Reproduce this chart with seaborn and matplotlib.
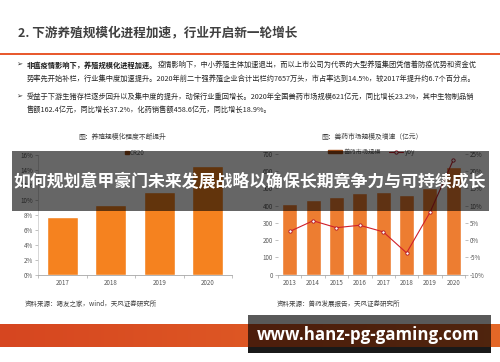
import numpy as np
import matplotlib
matplotlib.use("Agg")
import matplotlib.pyplot as plt
import seaborn as sns
from matplotlib.patches import Rectangle
from matplotlib.lines import Line2D

# ---------------- data ----------------
years_left = ["2017", "2018", "2019", "2020"]
cr20 = [7.7, 9.4, 11.1, 14.5]
left_yticks = [0, 2, 4, 6, 8, 10, 12, 14, 16]

years_right = ["2013", "2014", "2015", "2016", "2017", "2018", "2019", "2020"]
market = [410, 433, 448, 470, 481, 462, 503, 621]
yoy = [2.5, 5.6, 3.6, 4.3, 2.4, -3.7, 8.0, 23.2]
right_yticks = [0, 100, 200, 300, 400, 500, 600, 700]
yoy_ticks = [-10, -5, 0, 5, 10, 15, 20, 25]

title = "2. 下游养殖规模化进程加速，行业开启新一轮增长"
b1_bold = "非瘟疫情影响下，养殖规模化进程加速。"
b1_rest = "疫情影响下，中小养殖主体加速退出，而以上市公司为代表的大型养殖集团凭借着防疫优势和资金优"
b1_line2 = "势率先开始补栏，行业集中度加速提升。2020年前二十强养殖企业合计出栏约7657万头，市占率达到14.5%，较2017年提升约6.7个百分点。"
b2_line1 = "受益于下游生猪存栏逐步回升以及集中度的提升，动保行业重回增长。2020年全国兽药市场规模621亿元，同比增长23.2%，其中生物制品销"
b2_line2 = "售额162.4亿元，同比增长37.2%，化药销售额458.6亿元，同比增长18.9%。"
left_title = "图：养殖规模化程度不断提升"
right_title = "图：兽药市场规模及增速（亿元）"
left_src = "资料来源：猪友之家，wind，天风证券研究所"
right_src = "资料来源：兽药发展报告，天风证券研究所"
banner = "如何规划意甲豪门未来发展战略以确保长期竞争力与可持续成长"
watermark = "www.hanz-pg-gaming.com"

# ---------------- setup ----------------
sns.set_theme(style="white")
plt.rcParams['font.family'] = ['Noto Sans CJK SC', 'DejaVu Sans']

W, H = 500, 362
fig = plt.figure(figsize=(5, 3.62), dpi=100)
fig.patch.set_facecolor("white")
renderer = fig.canvas.get_renderer()


def fx(x):
    return x / W


def fy(y):
    return 1 - y / H


def fit(t, size, target):
    w = t.get_window_extent(renderer).width
    t.set_fontsize(size * target / w)


TXT = "#262626"
# slide title
tt = fig.text(fx(18), fy(33), title, fontsize=8.3, weight="bold", color="#404040", va="center")
fit(tt, 8.3, 279)
fig.add_artist(Line2D([0, 1], [fy(53.5)] * 2, transform=fig.transFigure,
                      color="#E8562A", lw=1.4))

# bullets
BF = 5.2
for yb in (65, 97):
    fig.text(fx(16.5), fy(yb), "➢", fontsize=5.2, color=TXT, va="center",
             family=["DejaVu Sans"])
t1 = fig.text(fx(27), fy(65), b1_bold, fontsize=BF, weight="bold", color="#1a1a1a", va="center")
bb = t1.get_window_extent(renderer)
fig.text(bb.x1 / fig.bbox.width, fy(65), b1_rest, fontsize=BF, color=TXT, va="center")
fig.text(fx(27), fy(79), b1_line2, fontsize=BF, color=TXT, va="center")
fig.text(fx(27), fy(97), b2_line1, fontsize=BF, color=TXT, va="center")
fig.text(fx(27), fy(110), b2_line2, fontsize=BF, color=TXT, va="center")

# chart titles & sources
fig.text(fx(122), fy(137), left_title, fontsize=4.9, color="#404040", ha="center", va="center")
fig.text(fx(372), fy(137), right_title, fontsize=4.9, color="#404040", ha="center", va="center")
fig.text(fx(25), fy(304), left_src, fontsize=4.7, color="#404040", va="center")
fig.text(fx(277), fy(304), right_src, fontsize=4.7, color="#404040", va="center")

TICKC = "#595959"
TF = 4.5

# ---------------- left chart ----------------
ax1 = fig.add_axes([fx(38), fy(275), (232 - 38) / W, 120 / H])
sns.barplot(x=years_left, y=cr20, ax=ax1, color="#F5821F", saturation=1, width=0.63)
ax1.set_ylim(0, 16)
ax1.set_xlim(-0.5, len(years_left) - 0.5)
ax1.set_yticks(left_yticks)
ax1.set_yticklabels([f"{v}%" for v in left_yticks])
ax1.set_xticks(range(len(years_left)))
ax1.set_xticklabels(years_left)
ax1.set_xticks(np.arange(len(years_left) + 1) - 0.5, minor=True)
ax1.tick_params(axis="x", which="major", length=0, pad=3, labelsize=TF, labelcolor=TICKC)
ax1.tick_params(axis="x", which="minor", length=2.5, width=0.5, color="#A6A6A6", bottom=True)
ax1.tick_params(axis="y", length=2, width=0.5, color="#A6A6A6", pad=1.5, labelsize=TF,
                labelcolor=TICKC, left=True)
ax1.set_xlabel("")
ax1.set_ylabel("")
for s in ("top", "right"):
    ax1.spines[s].set_visible(False)
ax1.spines["left"].set_color("#D0D0D0")
ax1.spines["left"].set_linewidth(0.6)
ax1.spines["bottom"].set_color("#A6A6A6")
ax1.spines["bottom"].set_linewidth(0.6)
h1 = Rectangle((0, 0), 1, 1, color="#A0501A")
ax1.legend([h1], ["CR20"], loc="center", bbox_to_anchor=(0.5, 1.02), frameon=False,
           fontsize=TF, handlelength=0.5, handleheight=0.5, handletextpad=0.2,
           labelcolor=TICKC, borderaxespad=0)

# ---------------- right chart ----------------
ax2 = fig.add_axes([fx(278), fy(274.7), 187 / W, 121 / H])
sns.barplot(x=years_right, y=market, ax=ax2, color="#ED7D31", saturation=1, width=0.64)
ax2.set_ylim(0, 700)
ax2.set_yticks(right_yticks)
ax2.set_yticklabels([str(v) for v in right_yticks])
ax3 = ax2.twinx()
sns.lineplot(x=np.arange(len(years_right)), y=yoy, ax=ax3, color="#D0202A", lw=0.8,
             marker="o", markersize=2.4, markerfacecolor="white",
             markeredgecolor="#B01020", markeredgewidth=0.6)
ax3.set_ylim(-10, 25)
ax3.set_yticks(yoy_ticks)
ax3.set_yticklabels([f"{v}%" for v in yoy_ticks])
ax2.set_xlim(-0.5, len(years_right) - 0.5)
ax2.set_xticks(range(len(years_right)))
ax2.set_xticklabels(years_right)
ax2.set_xticks(np.arange(len(years_right) + 1) - 0.5, minor=True)
ax2.tick_params(axis="x", which="major", length=0, pad=3, labelsize=TF, labelcolor=TICKC)
ax2.tick_params(axis="x", which="minor", length=2.5, width=0.5, color="#A6A6A6", bottom=True)
ax2.tick_params(axis="y", length=2, width=0.5, color="#A6A6A6", pad=1.5, labelsize=TF,
                labelcolor=TICKC, left=True)
ax3.tick_params(axis="y", length=2, width=0.5, color="#A6A6A6", pad=1.5, labelsize=TF,
                labelcolor=TICKC, right=True)
for a in (ax2, ax3):
    a.set_xlabel("")
    a.set_ylabel("")
    for s in ("top", "left", "right"):
        a.spines[s].set_visible(False)
ax2.spines["bottom"].set_color("#A6A6A6")
ax2.spines["bottom"].set_linewidth(0.6)
ax3.spines["bottom"].set_visible(False)
h2 = Rectangle((0, 0), 1, 1, color="#9A4A18")
h3 = Line2D([0], [0], color="#D0202A", lw=0.8, marker="o", markersize=2.4,
            markerfacecolor="white", markeredgecolor="#B01020", markeredgewidth=0.6)
ax3.legend([h2, h3], ["兽药市场规模", "yoy"], loc="center", bbox_to_anchor=(0.5, 1.015),
           ncol=2, frameon=False, fontsize=TF, handlelength=2.2, handleheight=0.5,
           handletextpad=0.3, columnspacing=1.2, labelcolor=TICKC, borderaxespad=0)

# ---------------- bottom orange band ----------------
axg = fig.add_axes([0, fy(347), 1, 23 / H])
c0 = np.array([214, 70, 32]) / 255
c1 = np.array([229, 104, 40]) / 255
grad = np.linspace(0, 1, 256)[None, :, None]
img = c0[None, None, :] * (1 - grad) + c1[None, None, :] * grad
axg.imshow(img, aspect="auto", extent=(0, 1, 0, 1))
axg.set_axis_off()

# ---------------- overlays ----------------
fig.add_artist(Rectangle((fx(12), fy(211)), (489 - 12) / W, 60 / H, transform=fig.transFigure,
                         facecolor="black", edgecolor="none", alpha=0.6, zorder=10))
tb = fig.text(fx(250), fy(182), banner, fontsize=11.5, weight="bold", color="white",
              ha="center", va="center", zorder=11)
fit(tb, 11.5, 474)

fig.add_artist(Rectangle((fx(248), fy(347)), (491 - 248) / W, 32 / H, transform=fig.transFigure,
                         facecolor="black", edgecolor="none", alpha=0.65, zorder=10))
fig.add_artist(Rectangle((fx(248), fy(353)), (491 - 248) / W, 6 / H, transform=fig.transFigure,
                         facecolor="black", edgecolor="none", alpha=0.9, zorder=10))
tw = fig.text(fx(368.5), fy(335), watermark, fontsize=14, weight="bold", color="white",
              ha="center", va="center", zorder=11, family=["Open Sans", "DejaVu Sans"])
fit(tw, 14, 223)

fig.savefig("out.png", dpi=100, facecolor="white")
